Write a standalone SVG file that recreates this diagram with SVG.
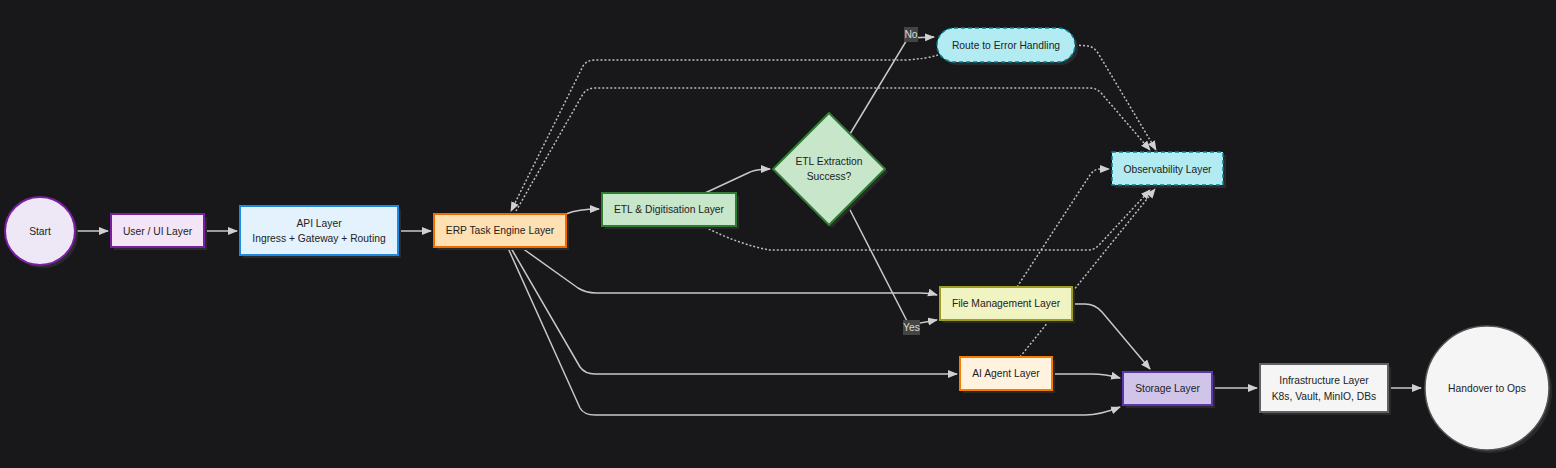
<svg xmlns="http://www.w3.org/2000/svg" width="1556" height="468" viewBox="0 0 1556 468">
<defs>
<marker id="ah" markerUnits="userSpaceOnUse" markerWidth="12" markerHeight="10" refX="9" refY="4" orient="auto">
<path d="M0,0 L10,4 L0,8 z" fill="#d0d0d0"/>
</marker>
<style>
text{font-family:"Liberation Sans",Arial,sans-serif;font-size:10.3px;fill:#222;text-anchor:middle}
.sh{fill:#2a2a2d}
.e{fill:none;stroke:#c8c8c8;stroke-width:1.5;marker-end:url(#ah)}
.d{fill:none;stroke:#bdbdbd;stroke-width:1.5;stroke-dasharray:2 2;marker-end:url(#ah)}
.lb{fill:#444}
.lt{fill:#d8d8d8}
</style>
</defs>
<rect width="1556" height="468" fill="#18181b"/>

<g id="connectors">
<path class="e" d="M75,231 L108,231"/>
<path class="e" d="M204,231 L237,231"/>
<path class="e" d="M398,231 L431,231"/>
<path class="e" d="M566,214 Q578,209 599,209"/>
<path class="e" d="M705,193 L748,173 Q755,169 770,169"/>
<path class="e" d="M850,134 L908,38 L934,37"/>
<path class="e" d="M848,206 L909,325 L937,320"/>
<path class="e" d="M522,248 L578,288 Q586,293 596,293 L920,293 Q930,293 937,295"/>
<path class="e" d="M511,248 L580,367 Q585,374 595,374 L957,374"/>
<path class="e" d="M508,248 L580,408 Q584,415 595,415 L1085,415 Q1100,415 1120,407"/>
<path class="e" d="M1072,304 L1085,304 Q1095,304 1102,312 L1150,369"/>
<path class="e" d="M1052,374 L1092,374 Q1105,374 1120,378"/>
<path class="e" d="M1212,388 L1257,388"/>
<path class="e" d="M1388,388 L1421,388"/>
<path class="d" d="M938,55 Q925,59 905,60 L595,60 Q587,60 583,66 L511,211"/>
<path class="d" d="M516,211 L583,94 Q587,88 595,88 L1090,88 Q1097,88 1102,94 L1150,150"/>
<path class="d" d="M1075,45 L1088,46 Q1094,47 1098,53 L1156,150"/>
<path class="d" d="M705,227 Q740,245 770,250 L1088,250 Q1095,250 1100,244 L1150,190"/>
<path class="d" d="M1017,287 L1090,175 Q1094,169 1100,169 L1109,169"/>
<path class="d" d="M1020,357 L1155,189"/>
<g id="label-no"><rect class="lb" x="904" y="27" width="14" height="15"/><text class="lt" x="911" y="38">No</text></g>
<g id="label-yes"><rect class="lb" x="903" y="320" width="17" height="15"/><text class="lt" x="911.5" y="331">Yes</text></g>
</g>

<g id="start">
<ellipse class="sh" cx="43" cy="234" rx="35" ry="34"/>
<ellipse cx="40" cy="231" rx="35" ry="34" fill="#ede7f6" stroke="#7b1fa2" stroke-width="2"/>
<text x="40" y="235">Start</text>
</g>

<g id="ui">
<rect class="sh" x="114" y="217" width="93" height="33"/>
<rect x="111" y="214" width="93" height="33" fill="#f3e5f5" stroke="#7b1fa2" stroke-width="2"/>
<text x="157.5" y="234.5">User / UI Layer</text>
</g>

<g id="api">
<rect class="sh" x="243" y="209" width="158" height="49"/>
<rect x="240" y="206" width="158" height="49" fill="#e3f2fd" stroke="#1e88e5" stroke-width="2"/>
<text x="319" y="227">API Layer</text>
<text x="319" y="242">Ingress + Gateway + Routing</text>
</g>

<g id="erp">
<rect class="sh" x="437" y="217" width="132" height="33"/>
<rect x="434" y="214" width="132" height="33" fill="#ffe0b2" stroke="#ef6c00" stroke-width="2"/>
<text x="500" y="234">ERP Task Engine Layer</text>
</g>

<g id="etl">
<rect class="sh" x="605" y="196" width="134" height="33"/>
<rect x="602" y="193" width="134" height="33" fill="#c8e6c9" stroke="#2e7d32" stroke-width="2"/>
<text x="669" y="213">ETL &amp; Digitisation Layer</text>
</g>

<g id="decision">
<polygon class="sh" points="832,116 888,172 832,228 776,172"/>
<polygon points="829,113 885,169 829,225 773,169" fill="#c8e6c9" stroke="#2e7d32" stroke-width="2"/>
<text x="829" y="165">ETL Extraction</text>
<text x="829" y="180">Success?</text>
</g>

<g id="error">
<rect class="sh" x="940" y="31" width="138" height="34" rx="17"/>
<rect x="937" y="28" width="138" height="34" rx="17" fill="#b2ebf2" stroke="#00838f" stroke-width="1.5" stroke-dasharray="4 3"/>
<text x="1006" y="49">Route to Error Handling</text>
</g>

<g id="obs">
<rect class="sh" x="1115" y="155" width="111" height="33"/>
<rect x="1112" y="152" width="111" height="33" fill="#b2ebf2" stroke="#00838f" stroke-width="1.5" stroke-dasharray="4 3"/>
<text x="1167.5" y="172.5">Observability Layer</text>
</g>

<g id="file">
<rect class="sh" x="943" y="290" width="132" height="33"/>
<rect x="940" y="287" width="132" height="33" fill="#f0f4c3" stroke="#9e9d24" stroke-width="2"/>
<text x="1006" y="307">File Management Layer</text>
</g>

<g id="ai">
<rect class="sh" x="963" y="360" width="92" height="33"/>
<rect x="960" y="357" width="92" height="33" fill="#fff3e0" stroke="#f57c00" stroke-width="2"/>
<text x="1006" y="377">AI Agent Layer</text>
</g>

<g id="storage">
<rect class="sh" x="1126" y="375" width="89" height="33"/>
<rect x="1123" y="372" width="89" height="33" fill="#d1c4e9" stroke="#5e35b1" stroke-width="2"/>
<text x="1167.5" y="392">Storage Layer</text>
</g>

<g id="infra">
<rect class="sh" x="1263" y="367" width="128" height="48"/>
<rect x="1260" y="364" width="128" height="48" fill="#f5f5f5" stroke="#616161" stroke-width="2"/>
<text x="1324" y="384">Infrastructure Layer</text>
<text x="1324" y="400">K8s, Vault, MinIO, DBs</text>
</g>

<g id="handover">
<circle class="sh" cx="1490" cy="391" r="62"/>
<circle cx="1487" cy="388" r="62" fill="#f5f5f5" stroke="#555" stroke-width="1.5"/>
<text x="1487" y="392">Handover to Ops</text>
</g>
</svg>
